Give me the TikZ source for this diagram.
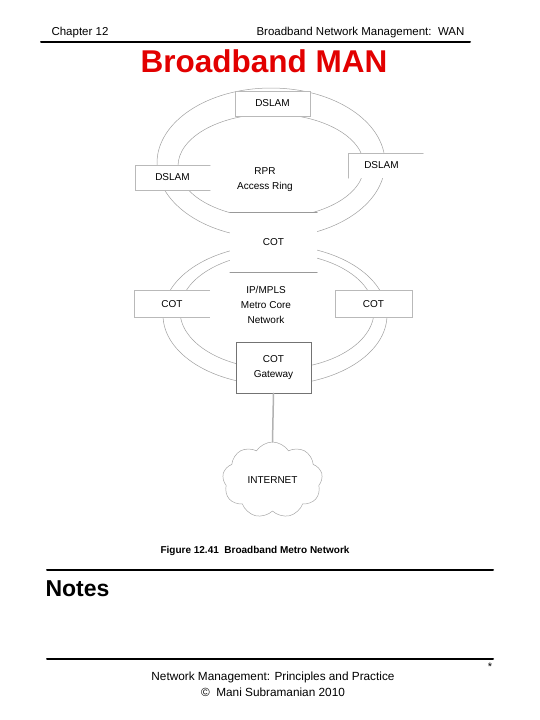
\documentclass[tikz,border=0pt]{standalone}
\usepackage{fontspec}
\setmainfont{Liberation Sans}
\usepackage{tikz}
\usetikzlibrary{shapes.symbols}
\usepackage{xcolor}
\definecolor{titlered}{RGB}{226,0,0}

\begin{document}
\begin{tikzpicture}[x=1pt,y=-1pt,line cap=round,
  ring/.style={gray!75,line width=0.5pt},
  unit/.style={fill=white,inner sep=0pt,minimum width=75pt,minimum height=25pt,font=\fontsize{10}{12}\selectfont},
  edge/.style={gray!55,line width=0.6pt},
  rule/.style={black,line width=2pt}]
\useasboundingbox (0,0) rectangle (540,720);
% page header
\node[anchor=base west,font=\fontsize{11.5}{13}\selectfont] (chap) at (48,35) {Chapter 12};
\node[anchor=base east,font=\fontsize{11.5}{13}\selectfont] (head) at (468,35) {Broadband Network Management:\ \ WAN};
\draw[rule] (41,42) -- (470,42);
\node[font=\fontsize{31.5}{33}\selectfont\bfseries,text=titlered] (title) at (264,61) {Broadband MAN};
% the two rings
\draw[ring] (271,163) ellipse [x radius=114pt,y radius=75pt];
\draw[ring] (271,166) ellipse [x radius=93pt,y radius=52pt];
\draw[ring] (275,315) ellipse [x radius=112pt,y radius=70pt];
\draw[ring] (277,311) ellipse [x radius=97pt,y radius=58pt];
% access ring
\node[unit] (dtop) at (272.5,103.5) {DSLAM};
\draw[edge] (dtop.north west) rectangle (dtop.south east);
\node[unit] (dleft) at (172.5,177.5) {DSLAM};
\draw[edge] (dleft.north east) -- (dleft.north west) -- (dleft.south west) -- (dleft.south east);
\node[unit] (dright) at (385.5,165.5) {\raisebox{1pt}{\hspace*{-8pt}DSLAM}};
\draw[edge] (dright.south west) -- (dright.north west) -- (dright.north east);
\node[align=center,font=\fontsize{10}{15}\selectfont] (rpr) at (265,180) {RPR\\Access Ring};
% metro core
\node[unit,minimum width=87pt,minimum height=60pt] (cmid) at (273.5,242) {COT};
\draw[edge,gray!80] (cmid.north west) -- (cmid.north east);
\draw[edge,gray!80] (cmid.south west) -- (cmid.south east);
\node[unit,minimum height=27pt] (cleft) at (172,304) {COT};
\draw[edge] (cleft.north east) -- (cleft.north west) -- (cleft.south west) -- (cleft.south east);
\node[unit,minimum width=77pt,minimum height=27pt] (cright) at (373.5,304) {COT};
\draw[edge] (cright.north west) rectangle (cright.south east);
\node[align=center,font=\fontsize{10}{15}\selectfont] (core) at (266,305) {IP/MPLS\\Metro Core\\Network};
\node[unit,minimum height=51pt,draw=gray!90!black,line width=0.7pt,align=center,font=\fontsize{10}{15}\selectfont] (gate) at (273.5,367.5) {COT\\Gateway};
% internet
\node[cloud,cloud puffs=9,cloud puff arc=115,aspect=1.3,draw=gray!70,line width=0.5pt,
  minimum width=100pt,minimum height=76pt,font=\fontsize{10}{12}\selectfont] (net) at (272.5,480) {INTERNET};
\draw[gray!60,line width=1.5pt] (gate.south) -- (net.north);
\node[font=\fontsize{10}{12}\selectfont\bfseries] (fig) at (255,551) {Figure 12.41\ \ Broadband Metro Network};
% notes and footer
\draw[rule] (47,570) -- (493,570);
\node[anchor=west,font=\fontsize{23}{25}\selectfont\bfseries] (notes) at (42,589) {Notes};
\draw[rule] (47,659) -- (493,659);
\node[font=\fontsize{11}{13}\selectfont] (star) at (490,667) {*};
\node[align=center,font=\fontsize{11.8}{16}\selectfont] (foot) at (273,684) {Network Management: Principles and Practice\\\copyright\ \ Mani Subramanian 2010};
\end{tikzpicture}
\end{document}
